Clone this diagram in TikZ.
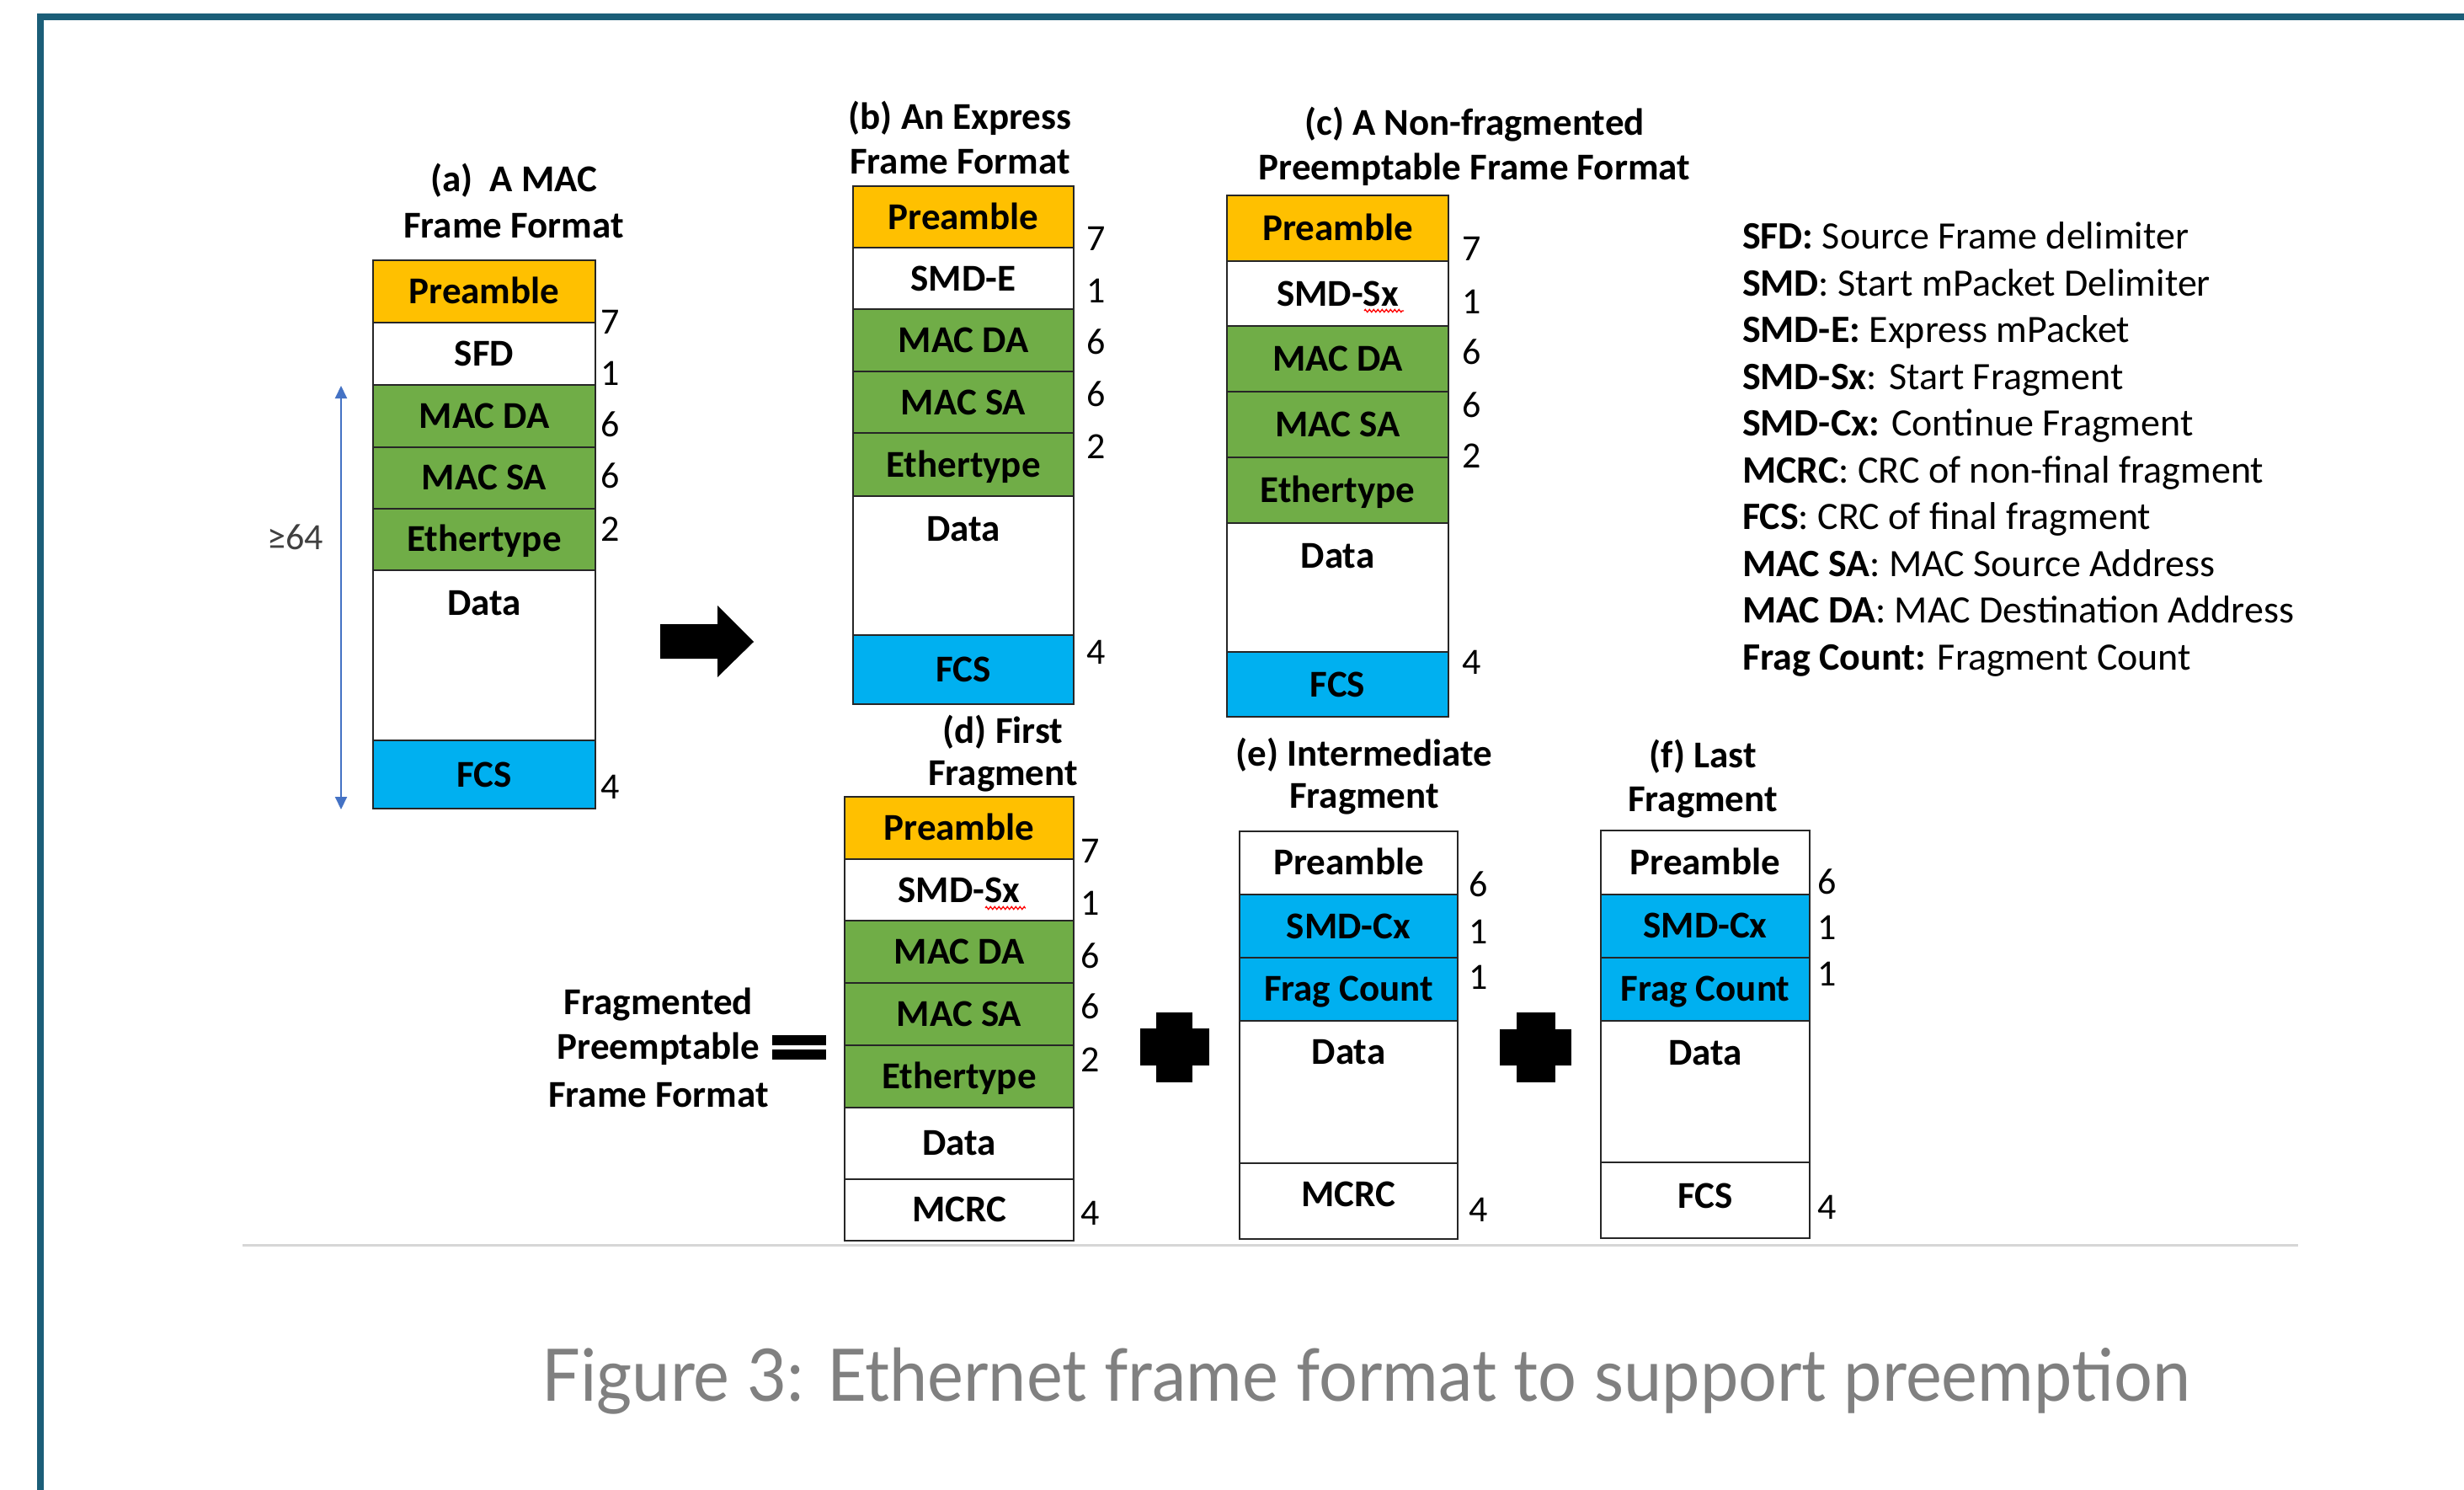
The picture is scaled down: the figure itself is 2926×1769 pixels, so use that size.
\documentclass[tikz,border=0pt]{standalone}
\usepackage{fontspec}
\setmainfont{Carlito}
\newfontfamily\capfont{Lato}
\usetikzlibrary{arrows.meta,decorations.pathmorphing}
\definecolor{cOrange}{HTML}{FFC000}
\definecolor{cGreen}{HTML}{70AD47}
\definecolor{cBlue}{HTML}{00B0F0}
\definecolor{cFrame}{HTML}{1B5E78}
\definecolor{cArrow}{HTML}{4472C4}
\definecolor{cCap}{HTML}{808080}
\definecolor{cRule}{HTML}{D6D6D6}
\definecolor{cEdge}{HTML}{262626}
\definecolor{cTxt}{HTML}{404040}
\begin{document}
\begin{tikzpicture}[x=1pt,y=-1pt,
  txt/.style={inner sep=0pt, outer sep=0pt, text height=38pt, text depth=9pt},
  lbl/.style={txt, font=\fontsize{45}{55}\selectfont\bfseries},
  num/.style={txt, font=\fontsize{44}{55}\selectfont, text=black},
  leg/.style={txt, anchor=west, font=\fontsize{46}{55}\selectfont},
  cell/.style={lbl, draw=cEdge, line width=2pt},
  wa/.style={minimum width=264pt},
  wb/.style={minimum width=262pt},
  wc/.style={minimum width=263pt},
  wd/.style={minimum width=272pt},
  we/.style={minimum width=259pt},
  wf/.style={minimum width=248pt},
  squig/.style={red, line width=1.3pt, decorate, decoration={zigzag, segment length=5pt, amplitude=1.6pt}},
  tipA/.tip={Triangle[length=15pt,width=14pt]}
]
\useasboundingbox (0,0) rectangle (2926,1769);
\fill[white] (0,0) rectangle (2926,1769);

% frame border and rule
\draw[cFrame, line width=8pt, line join=miter] (48,1769) -- (48,20) -- (2926,20);
\draw[cRule, line width=3pt] (288,1478) -- (2729,1478);

% ---------- (a) ----------
\node[lbl] (aT1) at (610,213) {(a)\ \ A MAC};
\node[lbl] (aT2) at (610,268) {Frame Format};
\node[cell, wa, fill=cOrange, minimum height=74pt] (aPre) at (575,346) {Preamble};
\node[cell, wa, fill=white, minimum height=73.5pt] (aSfd) at (575,419.75) {SFD};
\node[cell, wa, fill=cGreen, minimum height=74pt] (aDa) at (575,493.5) {MAC DA};
\node[cell, wa, fill=cGreen, minimum height=73pt] (aSa) at (575,567) {MAC SA};
\node[cell, wa, fill=cGreen, minimum height=73.5pt] (aEth) at (575,640.25) {Ethertype};
\node[cell, wa, fill=white, minimum height=202pt] (aData) at (575,778) {};
\node[lbl] (aDataT) at (575,716) {Data};
\node[cell, wa, fill=cBlue, minimum height=81pt] (aFcs) at (575,919.5) {FCS};
\node[num] (aN1) at (725,381.5) {7};
\node[num] (aN2) at (725,443) {1};
\node[num] (aN3) at (725,504) {6};
\node[num] (aN4) at (725,565) {6};
\node[num] (aN5) at (725,628) {2};
\node[num] (aN6) at (725,934) {4};
\coordinate (arTop) at (405,458);
\coordinate (arBot) at (405,961);
\draw[cArrow, line width=2pt, tipA-tipA] (arTop) -- (arBot);
\node[num, text=cTxt] (ge) at (351,638) {≥64};

% big arrow
\fill[black] (784,741) -- (852,741) -- (852,719) -- (895,762) -- (852,804) -- (852,782) -- (784,782) -- cycle;

% ---------- (b) ----------
\node[lbl] (bT1) at (1140,139) {(b) An Express};
\node[lbl] (bT2) at (1140,192) {Frame Format};
\node[cell, wb, fill=cOrange, minimum height=73pt] (bPre) at (1144,257.5) {Preamble};
\node[cell, wb, fill=white, minimum height=73pt] (bSmd) at (1144,330.5) {SMD-E};
\node[cell, wb, fill=cGreen, minimum height=74pt] (bDa) at (1144,404) {MAC DA};
\node[cell, wb, fill=cGreen, minimum height=73pt] (bSa) at (1144,477.5) {MAC SA};
\node[cell, wb, fill=cGreen, minimum height=75pt] (bEth) at (1144,551.5) {Ethertype};
\node[cell, wb, fill=white, minimum height=165pt] (bData) at (1144,671.5) {};
\node[lbl] (bDataT) at (1144,628) {Data};
\node[cell, wb, fill=cBlue, minimum height=82pt] (bFcs) at (1144,795) {FCS};
\node[num] (bN1) at (1302,283) {7};
\node[num] (bN2) at (1302,345) {1};
\node[num] (bN3) at (1302,406) {6};
\node[num] (bN4) at (1302,468) {6};
\node[num] (bN5) at (1302,530) {2};
\node[num] (bN6) at (1302,774) {4};

% ---------- (c) ----------
\node[lbl] (cT1) at (1751,146) {(c) A Non-fragmented};
\node[lbl] (cT2) at (1751,199) {Preemptable Frame Format};
\node[cell, wc, fill=cOrange, minimum height=78pt] (cPre) at (1588.5,271) {Preamble};
\node[cell, wc, fill=white, minimum height=77pt] (cSmd) at (1588.5,348.5) {SMD-Sx};
\node[cell, wc, fill=cGreen, minimum height=77.5pt] (cDa) at (1588.5,425.75) {MAC DA};
\node[cell, wc, fill=cGreen, minimum height=78pt] (cSa) at (1588.5,503.5) {MAC SA};
\node[cell, wc, fill=cGreen, minimum height=78.5pt] (cEth) at (1588.5,581.75) {Ethertype};
\node[cell, wc, fill=white, minimum height=153pt] (cData) at (1588.5,697.5) {};
\node[lbl] (cDataT) at (1588.5,660) {Data};
\node[cell, wc, fill=cBlue, minimum height=77pt] (cFcs) at (1588.5,812.5) {FCS};
\draw[squig] (1620,369) -- (1667,369);
\node[num] (cN1) at (1748,295) {7};
\node[num] (cN2) at (1748,358) {1};
\node[num] (cN3) at (1748,417.5) {6};
\node[num] (cN4) at (1748,480.5) {6};
\node[num] (cN5) at (1748,541) {2};
\node[num] (cN6) at (1748,786) {4};

% ---------- legend ----------
\node[leg] (l1) at (2069,281) {\textbf{SFD:} Source Frame delimiter};
\node[leg] (l2) at (2069,337) {\textbf{SMD}: Start mPacket Delimiter};
\node[leg] (l3) at (2069,392) {\textbf{SMD-E:} Express mPacket};
\node[leg] (l4) at (2069,448) {\textbf{SMD-Sx}: Start Fragment};
\node[leg] (l5) at (2069,503) {\textbf{SMD-Cx:} Continue Fragment};
\node[leg] (l6) at (2069,559) {\textbf{MCRC}: CRC of non-final fragment};
\node[leg] (l7) at (2069,614) {\textbf{FCS}: CRC of final fragment};
\node[leg] (l8) at (2069,670) {\textbf{MAC SA}: MAC Source Address};
\node[leg] (l9) at (2069,725) {\textbf{MAC DA}: MAC Destination Address};
\node[leg] (l10) at (2069,781) {\textbf{Frag Count:} Fragment Count};

% ---------- fragmented ----------
\node[lbl] (fT1) at (782,1190) {Fragmented};
\node[lbl] (fT2) at (782,1243) {Preemptable};
\node[lbl] (fT3) at (782,1300) {Frame Format};
\fill[black] (917,1229) rectangle (981,1241);
\fill[black] (917,1246) rectangle (981,1258);

% ---------- (d) ----------
\node[lbl] (dT1) at (1191,868) {(d) First};
\node[lbl] (dT2) at (1191,918) {Fragment};
\node[cell, wd, fill=cOrange, minimum height=74pt] (dPre) at (1139,983) {Preamble};
\node[cell, wd, fill=white, minimum height=73pt] (dSmd) at (1139,1056.5) {SMD-Sx};
\node[cell, wd, fill=cGreen, minimum height=74pt] (dDa) at (1139,1130) {MAC DA};
\node[cell, wd, fill=cGreen, minimum height=74pt] (dSa) at (1139,1204) {MAC SA};
\node[cell, wd, fill=cGreen, minimum height=74pt] (dEth) at (1139,1278) {Ethertype};
\node[cell, wd, fill=white, minimum height=84.5pt] (dData) at (1139,1357.25) {Data};
\node[cell, wd, fill=white, minimum height=73.5pt] (dMcrc) at (1139,1436.25) {MCRC};
\draw[squig] (1170,1078) -- (1218,1078);
\node[num] (dN1) at (1295,1010) {7};
\node[num] (dN2) at (1295,1072) {1};
\node[num] (dN3) at (1295,1135) {6};
\node[num] (dN4) at (1295,1195) {6};
\node[num] (dN5) at (1295,1257.5) {2};
\node[num] (dN6) at (1295,1440) {4};

% plus 1
\fill[black] (1373,1202) rectangle (1416,1285);
\fill[black] (1354,1221) rectangle (1436,1265);

% ---------- (e) ----------
\node[lbl] (eT1) at (1620,895) {(e) Intermediate};
\node[lbl] (eT2) at (1620,945) {Fragment};
\node[cell, we, fill=white, minimum height=75.5pt] (ePre) at (1601.5,1024.25) {Preamble};
\node[cell, we, fill=cBlue, minimum height=75pt] (eSmd) at (1601.5,1099.5) {SMD-Cx};
\node[cell, we, fill=cBlue, minimum height=74.5pt] (eFc) at (1601.5,1174.25) {Frag Count};
\node[cell, we, fill=white, minimum height=169.5pt] (eData) at (1601.5,1296.25) {};
\node[lbl] (eDataT) at (1601.5,1249) {Data};
\node[cell, we, fill=white, minimum height=90pt] (eMcrc) at (1601.5,1426) {};
\node[lbl] (eMcrcT) at (1601.5,1418) {MCRC};
\node[num] (eN1) at (1756,1050) {6};
\node[num] (eN2) at (1756,1106) {1};
\node[num] (eN3) at (1756,1160) {1};
\node[num] (eN4) at (1756,1436) {4};

% plus 2
\fill[black] (1801,1202) rectangle (1847,1285);
\fill[black] (1781,1222) rectangle (1866,1265);

% ---------- (f) ----------
\node[lbl] (fT1b) at (2022,897) {(f) Last};
\node[lbl] (fT2b) at (2022,949) {Fragment};
\node[cell, wf, fill=white, minimum height=76pt] (fPre) at (2025,1024) {Preamble};
\node[cell, wf, fill=cBlue, minimum height=74.5pt] (fSmd) at (2025,1099.25) {SMD-Cx};
\node[cell, wf, fill=cBlue, minimum height=75pt] (fFc) at (2025,1174) {Frag Count};
\node[cell, wf, fill=white, minimum height=168.5pt] (fData) at (2025,1295.75) {};
\node[lbl] (fDataT) at (2025,1250) {Data};
\node[cell, wf, fill=white, minimum height=90pt] (fFcs) at (2025,1425) {};
\node[lbl] (fFcsT) at (2025,1420) {FCS};
\node[num] (fN1) at (2170,1047) {6};
\node[num] (fN2) at (2170,1101) {1};
\node[num] (fN3) at (2170,1156) {1};
\node[num] (fN4) at (2170,1433) {4};

% ---------- caption ----------
\node[inner sep=0pt, anchor=base, text=cCap, font=\capfont\fontsize{86}{100}\selectfont] (cap) at (1622,1663) {\scalebox{0.942}[1]{Figure 3: Ethernet frame format to support preemption}};
\end{tikzpicture}
\end{document}
